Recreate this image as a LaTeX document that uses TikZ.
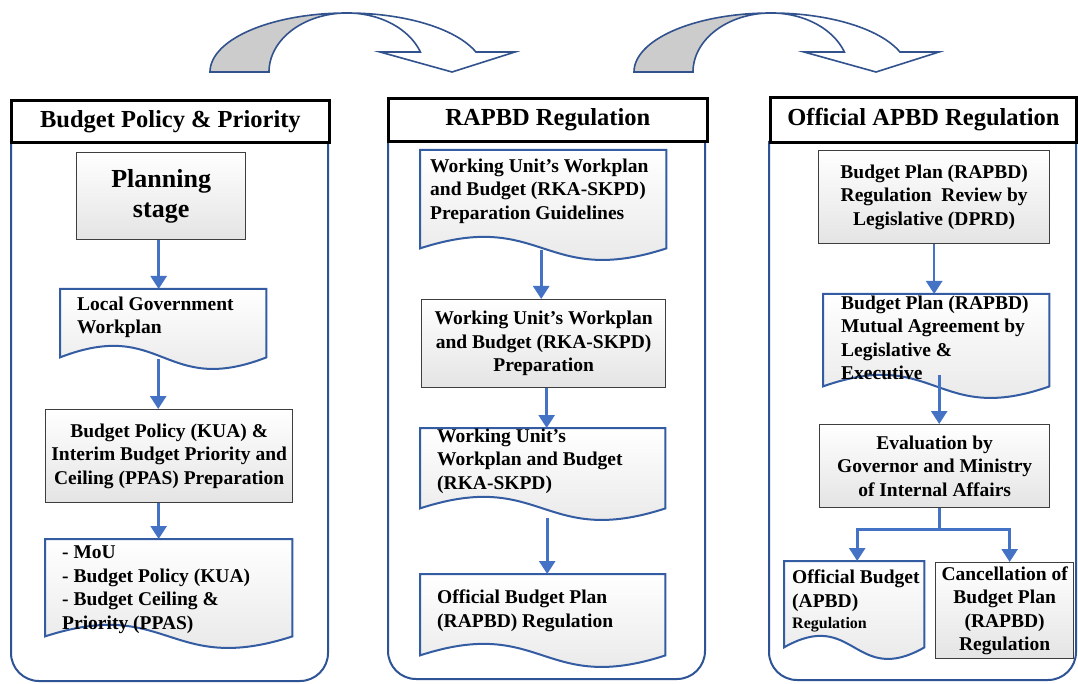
\documentclass[tikz,border=0pt]{standalone}
\usepackage{fontspec}
\setmainfont{Liberation Serif}
\usetikzlibrary{arrows.meta,calc,backgrounds}
\definecolor{panelblue}{RGB}{47,84,150}
\definecolor{docblue}{RGB}{52,92,162}
\definecolor{connblue}{RGB}{68,114,196}
\definecolor{boxgray}{RGB}{62,62,62}
\definecolor{shadegray}{RGB}{228,228,228}
\definecolor{arrowline}{RGB}{50,82,142}
\definecolor{arrowfill}{RGB}{204,204,204}
\newcommand\mybody{\bfseries\fontsize{19.5}{23.5}\selectfont}
\newcommand\dtext[5]{\parbox[c][#1pt][t]{#2pt}{\vspace*{#3pt}\raggedright\leftskip=#4pt\relax #5\par}}
\newcommand\bigarrow[1]{%
  \begin{scope}[xshift=#1pt]
    \fill[arrowfill] (210,72) -- (269,72)
      -- plot[domain=180:90,samples=40,variable=\t] ({347+78*cos(\t)},{72-59*sin(\t)})
      -- plot[domain=90:180,samples=40,variable=\t] ({347+137*cos(\t)},{72-59*sin(\t)}) -- cycle;
    \draw[arrowline] plot[domain=180:19.8,samples=80,variable=\t] ({347+137*cos(\t)},{72-59*sin(\t)})
      -- (515,52) -- (452,72) -- (380,52)
      -- plot[domain=19.8:180,samples=80,variable=\t] ({347+78*cos(\t)},{72-59*sin(\t)}) -- cycle;
  \end{scope}}
\newcommand\docbg[1]{%
  \draw[docline, top color=white, bottom color=shadegray]
    (#1.north west) -- (#1.north east) -- (#1.south east)
    .. controls ($(#1.south)+(0,40)$) and ($(#1.south)+(0,-40)$) .. (#1.south west) -- cycle;}
\begin{document}
\begin{tikzpicture}[x=1pt,y=-1pt,font=\mybody,
  box/.style={draw=boxgray, line width=1.3pt, top color=white, bottom color=shadegray,
    inner sep=0pt, anchor=north west, align=center},
  docnode/.style={inner sep=0pt, anchor=north west},
  hdr/.style={draw=black, line width=2.8pt, fill=white, inner sep=0pt, anchor=north west,
    font=\bfseries\fontsize{24.5}{28}\selectfont},
  conn/.style={draw=connblue, line width=2.6pt, -{Triangle[width=16pt,length=13pt]}},
  panel/.style={draw=panelblue, line width=2pt, rounded corners=28pt},
  docline/.style={draw=docblue, line width=2pt},
  arrowline/.style={draw=arrowline, line width=1.6pt, line join=miter}]
\useasboundingbox (0,0) rectangle (1078,684);

% curved arrows
\bigarrow{0}
\bigarrow{424}

% panels
\draw[panel] (11,141) -- (11,681) -- (328,681) -- (328,141);
\draw[panel] (388,140) -- (388,679) -- (705,679) -- (705,140);
\draw[panel] (769,141) -- (769,680) -- (1076,680) -- (1076,141);

% headers
\node[hdr, minimum width=318pt, minimum height=42pt] (h1) at (10,99) {Budget Policy \& Priority};
\node[hdr, minimum width=319pt, minimum height=43pt] (h2) at (387,97) {RAPBD Regulation};
\node[hdr, minimum width=306pt, minimum height=45pt] (h3) at (769,96) {Official APBD Regulation};

% panel 1
\node[box, minimum width=169pt, minimum height=87pt, font=\bfseries\fontsize{26}{30}\selectfont] (p1) at (76,152) {Planning\\stage};
\node[docnode] (d1) at (60,289) {\dtext{68}{206}{7.7}{17}{Local Government\\Workplan}};
\node[box, minimum width=247pt, minimum height=93pt] (b1) at (45,409) {Budget Policy (KUA) \&\\Interim Budget Priority and\\Ceiling (PPAS) Preparation};
\node[docnode] (d2) at (45,539) {\dtext{97}{247}{6.7}{17}{- MoU\\- Budget Policy (KUA)\\- Budget Ceiling \&\\Priority (PPAS)}};

% panel 2
\node[docnode] (d3) at (420,150) {\dtext{98}{246}{8.7}{10}{Working Unit's Workplan\\and Budget (RKA-SKPD)\\Preparation Guidelines}};
\node[box, minimum width=244pt, minimum height=88pt] (b2) at (421,299) {Working Unit's Workplan\\and Budget (RKA-SKPD)\\Preparation};
\node[docnode] (d4) at (420,428) {\dtext{80}{245}{0.7}{17}{Working Unit's\\Workplan and Budget\\(RKA-SKPD)}};
\node[docnode] (d5) at (420,574) {\dtext{81}{245}{15.7}{17}{Official Budget Plan\\(RAPBD) Regulation}};

% panel 3
\node[box, minimum width=231pt, minimum height=93pt] (b3) at (818,150) {Budget Plan (RAPBD)\\Regulation\ \ Review by\\Legislative (DPRD)};
\node[docnode] (d6) at (823,294) {\dtext{92}{226}{1.7}{18}{Budget Plan (RAPBD)\\Mutual Agreement by\\Legislative \&\\Executive}};
\node[box, minimum width=230pt, minimum height=83pt] (b4) at (819,424) {Evaluation by\\Governor and Ministry\\of Internal Affairs};
\node[docnode] (d7) at (784,561) {\dtext{86}{140}{8.7}{8}{Official Budget\\(APBD)\\[-2.5pt]{\fontsize{16}{18}\selectfont Regulation}}};
\node[box, minimum width=138pt, minimum height=96pt] (b5) at (935,562) {Cancellation of\\Budget Plan\\(RAPBD)\\Regulation};

\begin{pgfonlayer}{background}
\fill[white] (0,0) rectangle (1078,684);
\docbg{d1}\docbg{d2}\docbg{d3}\docbg{d4}\docbg{d5}\docbg{d6}\docbg{d7}
\end{pgfonlayer}

% connectors
\coordinate (a1) at ([xshift=-2.5pt]p1.south);
\draw[conn] (a1) -- (a1 |- d1.north);
\coordinate (a2) at ([xshift=-5pt,yshift=-2pt]d1.south);
\draw[conn] (a2) -- (a2 |- b1.north);
\coordinate (a3) at ([xshift=-10.5pt]b1.south);
\draw[conn] (a3) -- (a3 |- d2.north);
\coordinate (a4) at ([xshift=-2pt,yshift=-2pt]d3.south);
\draw[conn] (a4) -- (a4 |- b2.north);
\coordinate (a5) at ([xshift=3pt]b2.south);
\draw[conn] (a5) -- (a5 |- d4.north);
\coordinate (a6) at ([xshift=4.5pt,yshift=-10pt]d4.south);
\draw[conn] (a6) -- (a6 |- d5.north);
\coordinate (a7) at (b3.south);
\draw[conn] (a7) -- (a7 |- d6.north);
\coordinate (a8) at ([xshift=3pt,yshift=11pt]d6.south);
\draw[conn] (a8) -- (a8 |- b4.north);
\coordinate (s9) at ([xshift=5pt]b4.south);
\coordinate (t9a) at ([xshift=3pt]d7.north);
\coordinate (t9b) at ([xshift=5pt]b5.north);
\draw[conn] (s9) -- ++(0,21) -| (t9a);
\draw[conn] (s9) -- ++(0,21) -| (t9b);
\end{tikzpicture}
\end{document}
